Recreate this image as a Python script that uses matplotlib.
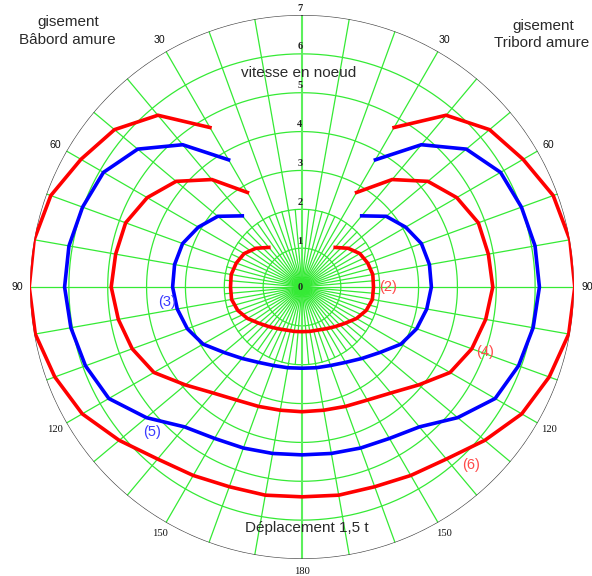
import numpy as np
import matplotlib
matplotlib.use("Agg")
import matplotlib.pyplot as plt

# Bearing (degrees off the wind) and boat speed (knots) for each wind strength
angles_long = [30, 40, 50, 60, 70, 80, 90, 100, 110, 120, 130, 140, 150, 160, 170, 180]
speed_6 = [4.74, 5.77, 6.30, 6.57, 6.88, 7.00, 7.02, 6.97, 6.77, 6.53, 6.14, 5.78, 5.60, 5.47, 5.44, 5.40]
speed_5 = [3.78, 4.78, 5.52, 5.90, 6.01, 6.09, 6.11, 6.04, 5.93, 5.74, 5.23, 4.70, 4.50, 4.41, 4.35, 4.32]
speed_4 = [2.81, 3.61, 4.23, 4.60, 4.83, 4.87, 4.91, 4.80, 4.65, 4.40, 3.92, 3.56, 3.36, 3.27, 3.22, 3.21]

angles_short = [40, 50, 60, 70, 80, 90, 100, 110, 120, 130, 140, 150, 160, 170, 180]
speed_3 = [2.39, 2.83, 3.08, 3.27, 3.33, 3.33, 3.26, 3.14, 2.94, 2.62, 2.40, 2.24, 2.15, 2.11, 2.09]
speed_2 = [1.33, 1.55, 1.72, 1.80, 1.85, 1.84, 1.84, 1.76, 1.62, 1.45, 1.33, 1.24, 1.18, 1.16, 1.15]

radial_ticks = [0, 1, 2, 3, 4, 5, 6, 7]
bearing_ticks = [30, 60, 90, 120, 150, 180]

GREEN = "#35ea35"
RED = "#ff0000"
BLUE = "#0000ff"

W, H = 592, 576
fig = plt.figure(figsize=(W / 100, H / 100), dpi=100, facecolor="white")

cx, cy, R = 302, 287, 272
ax = fig.add_axes([(cx - R) / W, (H - cy - R) / H, 2 * R / W, 2 * R / H], projection="polar")
ax.set_theta_zero_location("N")
ax.set_theta_direction(-1)
ax.set_ylim(0, 7)
ax.set_xticks([])
ax.set_yticks([])
ax.grid(False)
ax.spines["polar"].set_visible(False)
ax.patch.set_alpha(0)

# speed circles
full = np.linspace(0, 2 * np.pi, 721)
for r in range(1, 7):
    ax.plot(full, np.full_like(full, r), color=GREEN, lw=0.9, zorder=1)
ax.plot(full, np.full_like(full, 7), color="#444444", lw=0.9, zorder=3)

# bearing spokes every 10 degrees, denser near the centre
for a in range(0, 360, 10):
    t = np.radians(a)
    if a in (0, 180):
        ax.plot([t, t], [0, 7], color="#5cf05c", lw=1.5, zorder=1)
    else:
        ax.plot([t, t], [0, 7], color=GREEN, lw=0.9, zorder=1)
for a in range(5, 360, 10):
    t = np.radians(a)
    ax.plot([t, t], [0, 2], color=GREEN, lw=0.9, zorder=1)


def both_tacks(angles, speeds):
    th = list(angles) + [360 - a for a in angles[::-1][1:]]
    sp = list(speeds) + list(speeds[::-1][1:])
    return np.radians(th), np.array(sp)


for angles, speeds, col in [(angles_long, speed_6, RED), (angles_long, speed_5, BLUE),
                            (angles_long, speed_4, RED), (angles_short, speed_3, BLUE),
                            (angles_short, speed_2, RED)]:
    th, sp = both_tacks(angles, speeds)
    ax.plot(th, sp, color=col, lw=2.6, solid_joinstyle="miter", zorder=4)

# curve labels
lab_font = dict(family="Liberation Sans", fontsize=10.5, ha="center", va="center", zorder=5)
ax.text(np.radians(90), 2.21, "(2)", color="#ff4a4a", **lab_font)
ax.text(np.radians(263.7), 3.50, "(3)", color="#3a3aff", **lab_font)
ax.text(np.radians(109.6), 5.00, "(4)", color="#ff4a4a", **lab_font)
ax.text(np.radians(226.0), 5.37, "(5)", color="#3a3aff", **lab_font)
ax.text(np.radians(136.5), 6.32, "(6)", color="#ff4a4a", **lab_font)

# radial speed labels along the 0 bearing
for k in radial_ticks:
    ax.annotate(str(k), xy=(0, k), xytext=(-1.5, 5 if k else 0), textcoords="offset points",
                ha="center", va="center", family="Liberation Serif", fontsize=7.5,
                fontweight="bold", color="#222222", zorder=6)

# bearing labels on both tacks
for a in bearing_ticks:
    fam = "Liberation Sans" if a <= 90 else "Liberation Serif"
    sides = [a] if a == 180 else [a, 360 - a]
    for s in sides:
        ax.text(np.radians(s), 7.33, str(a), ha="center", va="center",
                family=fam, fontsize=7.6, color="#111111", zorder=6)

txt = dict(family="Liberation Sans", fontsize=11, color="#2a2a2a", ha="center", va="center")
fig.text(68 / W, 1 - 22 / H, "gisement", **txt)
fig.text(67 / W, 1 - 40 / H, "Bâbord amure", **txt)
fig.text(543 / W, 1 - 26 / H, "gisement", **txt)
fig.text(542 / W, 1 - 43 / H, "Tribord amure", **txt)
fig.text(299 / W, 1 - 73 / H, "vitesse en noeud", **txt)
fig.text(307 / W, 1 - 528 / H, "Déplacement 1,5 t", **txt)

fig.savefig("out.png", dpi=100, facecolor="white")
